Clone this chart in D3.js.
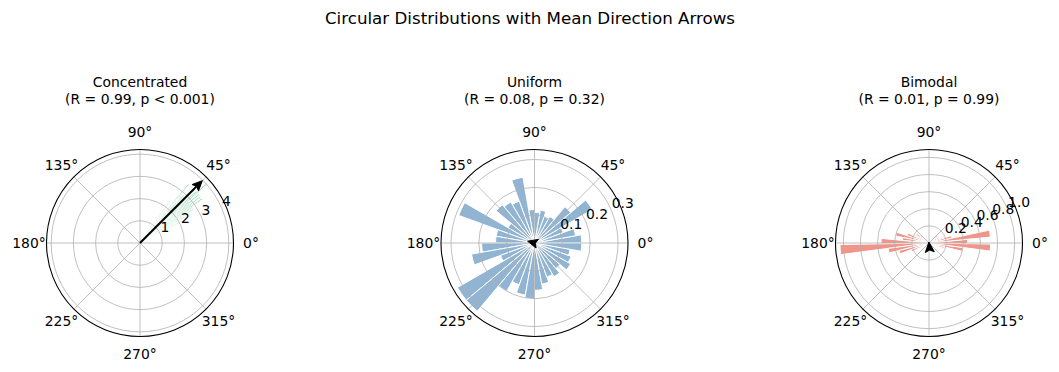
<!DOCTYPE html>
<html>
<head>
<meta charset="utf-8">
<script src="https://cdn.jsdelivr.net/npm/d3@7"></script>
<style>
  body { margin: 0; background: #fff; }
  text { font-family: 'DejaVu Sans', sans-serif; fill: #000; }
</style>
</head>
<body>
<div id="box"></div>
<script>
// ---- data ----
const panelTitles = ['Concentrated', 'Uniform', 'Bimodal'];
const panelStats = ['(R = 0.99, p < 0.001)', '(R = 0.08, p = 0.32)', '(R = 0.01, p = 0.99)'];
const angleTicks = [0, 45, 90, 135, 180, 225, 270, 315];

// histogram bins: first edge (deg), bin width (deg), density per bin
const concentratedStart = 22;
const concentratedWidth = 1.0;
const concentratedDensity = [0, 0.57, 0, 0.57, 1.15, 2.29, 1.15, 1.72, 2.29, 1.72, 2.86, 2.29,
  2.86, 3.44, 2.86, 3.44, 2.86, 3.44, 2.86, 4.01, 3.44, 2.86, 3.44, 2.86,
  2.29, 2.86, 2.29, 1.72, 3.44, 1.72, 1.15, 1.72, 2.29, 0.57, 0.57, 0.57];

const uniformStart = 0;
const uniformWidth = 10;
const uniformDensity = [0.17, 0.15, 0.11, 0.24, 0.17, 0.11, 0.10, 0.12, 0.11, 0.12, 0.24, 0.16,
  0.17, 0.18, 0.11, 0.29, 0.14, 0.14, 0.19, 0.23, 0.13, 0.32, 0.32, 0.20,
  0.16, 0.19, 0.20, 0.17, 0.15, 0.13, 0.14, 0.12, 0.15, 0.14, 0.13, 0.17];

const bimodalStart = -27;
const bimodalWidth = 6.5;
const bimodalDensity = [0.05, 0.18, 0.40, 0.72, 0.45, 0.72, 0.27, 0.13, 0.13, 0.09, 0.13, 0.04,
  0, 0.04, 0, 0, 0, 0, 0, 0, 0, 0, 0.04, 0.04,
  0.09, 0.13, 0.18, 0.13, 0.27, 0.40, 0.31, 0.56, 1.04, 0.48, 0.36, 0.22];

const meanR = [0.99, 0.08, 0.01];
const meanAngle = [45, 165, 95];
const radialTicks = [[1, 2, 3, 4], [0.1, 0.2, 0.3], [0.2, 0.4, 0.6, 0.8, 1.0]];
const radialTickLabels = [['1', '2', '3', '4'], ['0.1', '0.2', '0.3'], ['0.2', '0.4', '0.6', '0.8', '1.0']];

const barColors = ['mediumseagreen', 'steelblue', '#e74c3c'];

const panels = [
  { start: concentratedStart, width: concentratedWidth, values: concentratedDensity },
  { start: uniformStart, width: uniformWidth, values: uniformDensity },
  { start: bimodalStart, width: bimodalWidth, values: bimodalDensity }
];

// ---- layout ----
const width = 1059, height = 372;
const centersX = [140, 534.5, 929];
const centerY = 243;
const radius = 93.5;

const svg = d3.select('#box').append('svg')
  .attr('width', width)
  .attr('height', height);

svg.append('text')
  .text('Circular Distributions with Mean Direction Arrows')
  .attr('x', 530)
  .attr('y', 24)
  .attr('text-anchor', 'middle')
  .style('font-size', '16.7px');

// math angle (deg, ccw from east) -> d3 arc angle (rad, cw from north)
const toArc = deg => (90 - deg) * Math.PI / 180;
const rad = deg => deg * Math.PI / 180;

function drawPanel(i) {
  const p = panels[i];
  const rMax = d3.max(p.values) * 1.05;
  const r = d3.scaleLinear().domain([0, rMax]).range([0, radius]);

  const g = svg.append('g')
    .attr('transform', `translate(${centersX[i]}, ${centerY})`);

  const arc = d3.arc().innerRadius(0);

  g.selectAll('path.bar')
    .data(p.values)
    .enter()
    .append('path')
    .attr('class', 'bar')
    .attr('d', (d, j) => arc({
      outerRadius: r(d),
      startAngle: toArc(p.start + j * p.width),
      endAngle: toArc(p.start + (j + 1) * p.width)
    }))
    .attr('fill', barColors[i])
    .attr('fill-opacity', 0.6)
    .attr('stroke', 'white')
    .attr('stroke-width', i === 0 ? 0.8 : 1);

  // grid
  g.selectAll('circle.grid')
    .data(radialTicks[i])
    .enter()
    .append('circle')
    .attr('r', d => r(d))
    .attr('fill', 'none')
    .attr('stroke', '#b0b0b0')
    .attr('stroke-width', 0.8);

  g.selectAll('line.spoke')
    .data(angleTicks)
    .enter()
    .append('line')
    .attr('x1', 0).attr('y1', 0)
    .attr('x2', d => radius * Math.cos(rad(d)))
    .attr('y2', d => -radius * Math.sin(rad(d)))
    .attr('stroke', '#b0b0b0')
    .attr('stroke-width', 0.8);

  g.append('circle')
    .attr('r', radius)
    .attr('fill', 'none')
    .attr('stroke', 'black')
    .attr('stroke-width', 1.1);

  // angle labels
  g.selectAll('text.theta')
    .data(angleTicks)
    .enter()
    .append('text')
    .text(d => d + '°')
    .attr('x', d => 111 * Math.cos(rad(d)))
    .attr('y', d => -111 * Math.sin(rad(d)) + 5)
    .attr('text-anchor', 'middle')
    .style('font-size', '13.9px');

  // radial labels at 22.5 deg
  g.selectAll('text.rlab')
    .data(radialTicks[i])
    .enter()
    .append('text')
    .text((d, j) => radialTickLabels[i][j])
    .attr('x', d => r(d) * Math.cos(rad(22.5)))
    .attr('y', d => -r(d) * Math.sin(rad(22.5)) - 3)
    .style('font-size', '13.9px');

  // mean direction arrow
  const len = r(meanR[i] * d3.max(p.values));
  const a = rad(meanAngle[i]);
  const ux = Math.cos(a), uy = -Math.sin(a);
  const tipX = len * ux, tipY = len * uy;
  const headL = 10, headW = 4.5;
  const bx = tipX - headL * ux, by = tipY - headL * uy;
  if (len > headL) {
    g.append('line')
      .attr('x1', 0).attr('y1', 0)
      .attr('x2', bx + 2 * ux).attr('y2', by + 2 * uy)
      .attr('stroke', 'black')
      .attr('stroke-width', 2);
  }
  g.append('path')
    .attr('d', `M${tipX},${tipY} L${bx - headW * uy},${by + headW * ux} L${bx + 2 * ux},${by + 2 * uy} L${bx + headW * uy},${by - headW * ux} Z`)
    .attr('fill', 'black')
    .attr('stroke', 'black')
    .attr('stroke-width', 1);

  // titles
  svg.append('text')
    .text(panelTitles[i])
    .attr('x', centersX[i])
    .attr('y', 87)
    .attr('text-anchor', 'middle')
    .style('font-size', '13.9px');
  svg.append('text')
    .text(panelStats[i])
    .attr('x', centersX[i])
    .attr('y', 103.5)
    .attr('text-anchor', 'middle')
    .style('font-size', '13.9px');
}

panels.forEach((p, i) => drawPanel(i));
</script>
</body>
</html>
